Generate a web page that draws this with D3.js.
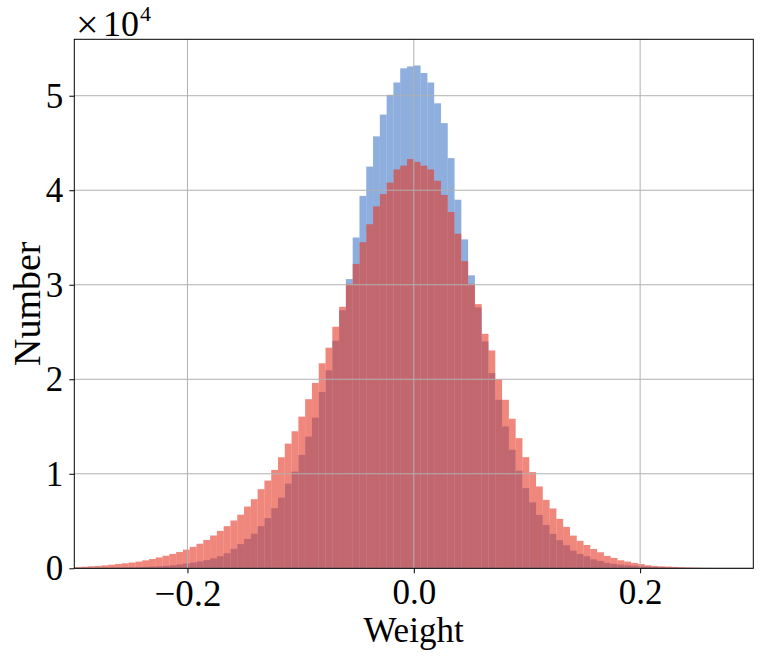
<!DOCTYPE html>
<html><head><meta charset="utf-8">
<script src="https://cdn.jsdelivr.net/npm/d3@7/dist/d3.min.js"></script>
<style>body{margin:0;background:#fff}svg{display:block}text{font-family:"Liberation Serif","DejaVu Serif",serif;fill:#000}</style>
</head><body><svg id="c" width="762" height="660"></svg>
<script>
// bins: 100 equal bins over [-0.3, 0.3]
const binStart = -0.3, binWidth = 0.006;
// counts in thousands
const narrowK = [0.01,0.015,0.02,0.03,0.04,0.05,0.06,0.08,0.10,0.12,
 0.15,0.18,0.21,0.25,0.32,0.40,0.50,0.60,0.72,0.87,
 1.05,1.28,1.60,2.06,2.56,3.10,3.66,4.46,5.31,6.36,
 7.48,8.96,10.23,12.0,13.93,15.94,18.66,20.95,24.08,27.3,
 30.6,35.0,39.4,42.5,45.7,48.0,50.1,51.4,52.9,53.1,
 53.2,52.4,51.4,49.2,47.1,43.4,39.0,34.8,31.0,27.6,
 24.0,20.65,17.83,15.01,12.54,10.32,8.48,6.97,5.65,4.59,
 3.64,2.97,2.44,1.87,1.52,1.27,0.95,0.78,0.57,0.46,
 0.39,0.32,0.28,0.21,0.18,0.14,0.11,0.08,0.06,0.04,
 0.03,0.02,0.015,0.01,0.008,0.005,0.004,0.003,0.002,0.001];
const wideK = [0.12,0.17,0.21,0.25,0.31,0.38,0.45,0.53,0.61,0.71,
 0.84,0.98,1.15,1.33,1.52,1.72,1.98,2.27,2.60,3.00,
 3.47,3.96,4.46,5.06,5.67,6.53,7.31,8.37,9.28,10.41,
 11.75,13.19,14.50,16.05,17.89,19.61,21.69,23.34,25.56,27.67,
 30.1,32.2,34.5,36.4,38.3,39.6,40.8,42.2,42.6,43.3,
 43.0,42.6,42.2,41.0,39.5,37.7,35.4,32.5,30.1,27.95,
 24.81,23.05,20.0,17.83,15.82,13.77,11.76,10.18,8.66,7.24,
 6.33,5.23,4.38,3.46,2.90,2.47,2.05,1.70,1.31,1.10,
 0.85,0.71,0.57,0.46,0.32,0.25,0.21,0.18,0.14,0.11,
 0.09,0.07,0.05,0.04,0.03,0.025,0.02,0.015,0.01,0.008];
const xTicks = [-0.2, 0.0, 0.2];
const xTickLabels = ["\u22120.2", "0.0", "0.2"];
const yTicks = [0, 10000, 20000, 30000, 40000, 50000];
const yTickLabels = ["0","1","2","3","4","5"];
const xDomain = [-0.3, 0.3];
const yDomain = [0, 55970];

const svg = d3.select("#c");
const L = 74.3, R = 753.3, T = 39.3, B = 568.3;
const x = d3.scaleLinear().domain(xDomain).range([L, R]);
const y = d3.scaleLinear().domain(yDomain).range([B, T]);

function series(arr){ return arr.map((v,i)=>({x0: binStart + i*binWidth, x1: binStart + (i+1)*binWidth, v: v*1000})); }

const plot = svg.append("g");
plot.selectAll("rect.b").data(series(narrowK)).join("rect")
  .attr("x", d=>x(d.x0)).attr("width", d=>x(d.x1)-x(d.x0))
  .attr("y", d=>y(d.v)).attr("height", d=>y(0)-y(d.v))
  .attr("fill", "rgb(67,120,198)").attr("fill-opacity", 0.6);
plot.selectAll("rect.r").data(series(wideK)).join("rect")
  .attr("x", d=>x(d.x0)).attr("width", d=>x(d.x1)-x(d.x0))
  .attr("y", d=>y(d.v)).attr("height", d=>y(0)-y(d.v))
  .attr("fill", "rgb(230,55,38)").attr("fill-opacity", 0.6);

// grid
const grid = svg.append("g").attr("stroke", "#b0b0b0").attr("stroke-width", 1);
xTicks.forEach(t=>grid.append("line").attr("x1", x(t)).attr("x2", x(t)).attr("y1", T).attr("y2", B));
yTicks.forEach(t=>grid.append("line").attr("x1", L).attr("x2", R).attr("y1", y(t)).attr("y2", y(t)));

// axes
const xAxis = d3.axisBottom(x).tickValues(xTicks).tickFormat((d,i)=>xTickLabels[i]).tickSizeInner(5).tickSizeOuter(0).tickPadding(6);
const yAxis = d3.axisLeft(y).tickValues(yTicks).tickFormat((d,i)=>yTickLabels[i]).tickSizeInner(5).tickSizeOuter(0).tickPadding(6);
const gx = svg.append("g").attr("transform", `translate(0,${B})`).call(xAxis);
const gy = svg.append("g").attr("transform", `translate(${L},0)`).call(yAxis);
[gx, gy].forEach(g=>{ g.select(".domain").remove(); g.selectAll("line").attr("stroke","#000"); g.selectAll("text").style("font-size","35px").attr("fill","#000"); });
gy.selectAll("text").attr("dy", "0.33em");
gx.selectAll("text").filter((d,i)=>i===0).style("font-size","37px");

svg.append("rect").attr("x", L).attr("y", T).attr("width", R-L).attr("height", B-T)
  .attr("fill", "none").attr("stroke", "#000").attr("stroke-width", 1);

// labels
svg.append("text").attr("x", 413.5).attr("y", 642).attr("text-anchor","middle").style("font-size","35px").text("Weight");
svg.append("text").attr("transform", `translate(40,${(T+B)/2}) rotate(-90)`).attr("text-anchor","middle").style("font-size","38px").text("Number");
const off = svg.append("g");
off.append("text").attr("x", 76).attr("y", 38).style("font-size","40px").text("\u00d7");
off.append("text").attr("x", 103).attr("y", 36).style("font-size","36px").text("10");
off.append("text").attr("x", 140).attr("y", 21).style("font-size","22px").text("4");
</script></body></html>
